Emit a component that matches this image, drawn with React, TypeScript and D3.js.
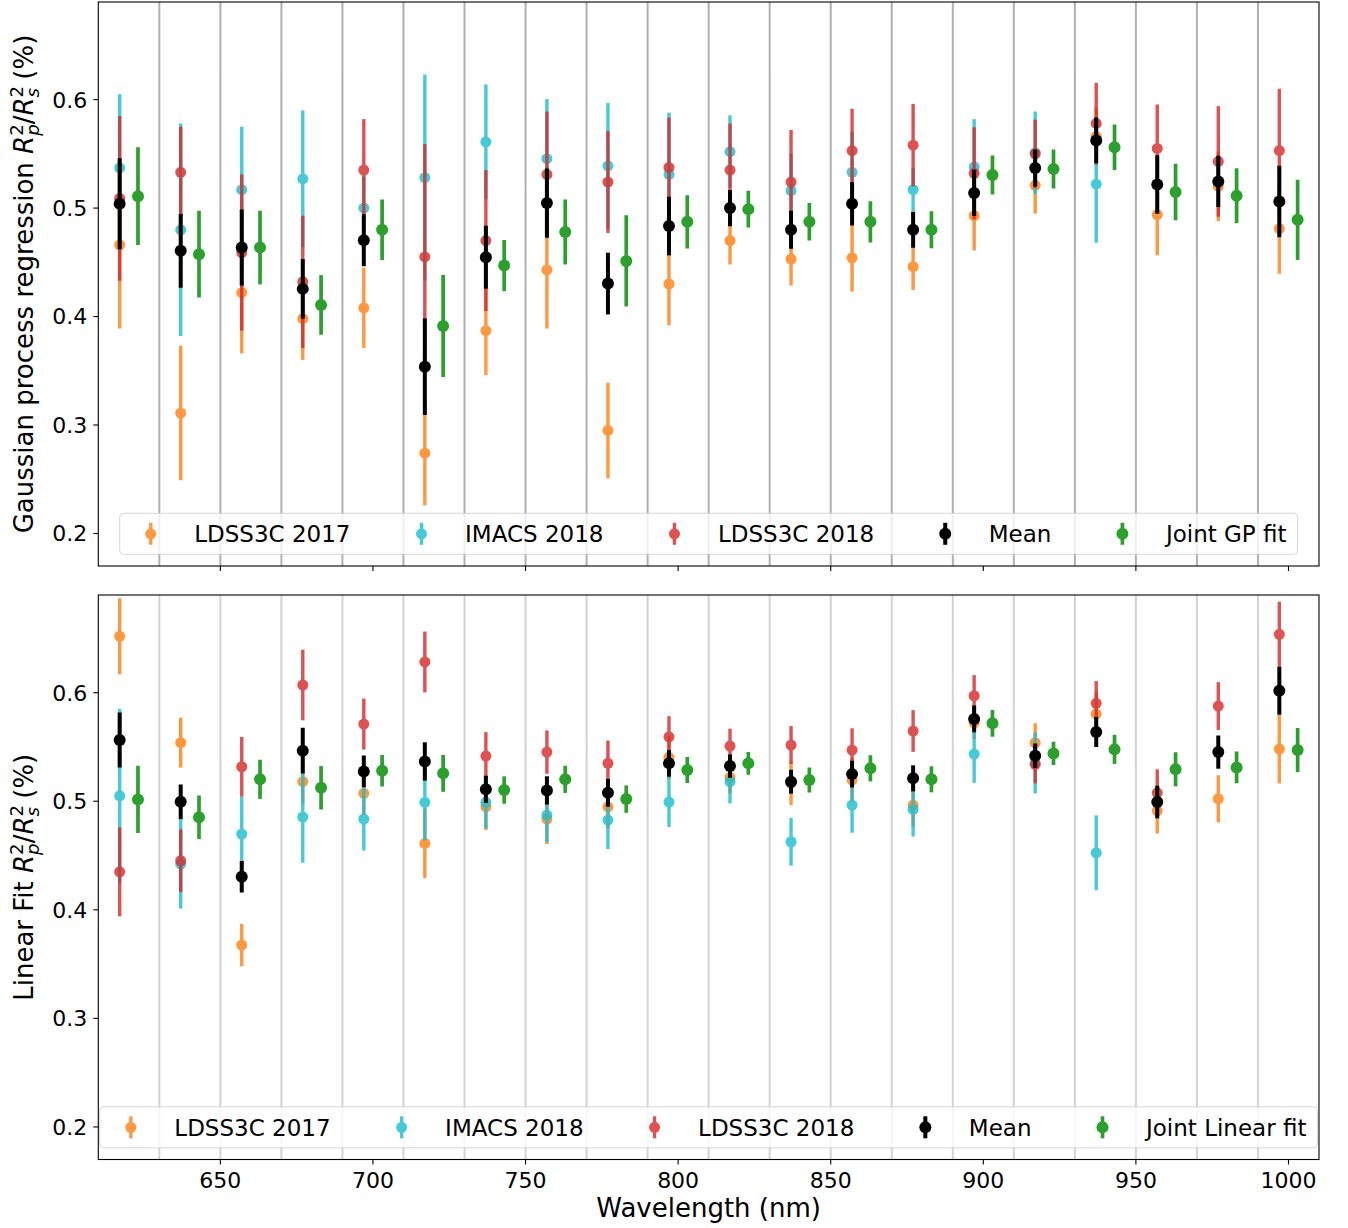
import React from 'react';
import * as d3 from 'd3';

// bin centres (nm) and bin edges used for the vertical separators
const wavelengths = [620, 640, 660, 680, 700, 720, 740, 760, 780, 800, 820, 840, 860, 880, 900, 920, 940, 960, 980, 1000];
const binEdges = [630, 650, 670, 690, 710, 730, 750, 770, 790, 810, 830, 850, 870, 890, 910, 930, 950, 970, 990];
const xTicks = [650, 700, 750, 800, 850, 900, 950, 1000];
const yTicks = [0.2, 0.3, 0.4, 0.5, 0.6];

const labels = ['LDSS3C 2017', 'IMACS 2018', 'LDSS3C 2018', 'Mean'];

// Gaussian process regression
const gpLdss17 = [0.466, 0.311, 0.422, 0.398, 0.408, 0.274, 0.387, 0.443, 0.295, 0.43, 0.47, 0.453, 0.454, 0.446, 0.493, 0.521, 0.566, 0.494, 0.52, 0.481];
const gpLdss17Err = [0.077, 0.062, 0.056, 0.038, 0.037, 0.048, 0.041, 0.054, 0.044, 0.038, 0.022, 0.0245, 0.031, 0.0215, 0.032, 0.026, 0.027, 0.0375, 0.032, 0.0415];
const gpImacs = [0.537, 0.48, 0.517, 0.527, 0.5, 0.528, 0.561, 0.5455, 0.539, 0.531, 0.552, 0.516, 0.533, 0.517, 0.538, 0.551, 0.522, null, null, null];
const gpImacsErr = [0.068, 0.098, 0.058, 0.063, 0.029, 0.095, 0.053, 0.055, 0.058, 0.057, 0.0335, 0.034, 0.037, 0.02, 0.044, 0.038, 0.054, null, null, null];
const gpLdss18 = [0.509, 0.533, 0.459, 0.432, 0.535, 0.455, 0.47, 0.531, 0.524, 0.5375, 0.535, 0.524, 0.553, 0.558, 0.532, 0.55, 0.578, 0.555, 0.543, 0.553];
const gpLdss18Err = [0.076, 0.042, 0.072, 0.061, 0.047, 0.104, 0.065, 0.058, 0.047, 0.046, 0.043, 0.048, 0.0385, 0.038, 0.0425, 0.0315, 0.0375, 0.0405, 0.051, 0.057];
const gpMean = [0.504, 0.4606, 0.4636, 0.4255, 0.4704, 0.3538, 0.4547, 0.5046, 0.4304, 0.4834, 0.5, 0.48, 0.504, 0.48, 0.514, 0.537, 0.5624, 0.5218, 0.5246, 0.5061];
const gpMeanErr = [0.042, 0.034, 0.035, 0.0275, 0.024, 0.0445, 0.029, 0.032, 0.0285, 0.027, 0.0167, 0.0175, 0.02, 0.0165, 0.0214, 0.017, 0.021, 0.027, 0.0237, 0.033];
const gpJoint = [0.511, 0.4575, 0.4636, 0.4107, 0.48, 0.3913, 0.447, 0.478, 0.4513, 0.4873, 0.499, 0.4873, 0.4873, 0.48, 0.5305, 0.536, 0.556, 0.5148, 0.5114, 0.4892];
const gpJointErr = [0.045, 0.04, 0.034, 0.0275, 0.028, 0.047, 0.0235, 0.03, 0.042, 0.0245, 0.017, 0.0173, 0.019, 0.017, 0.018, 0.018, 0.021, 0.026, 0.0254, 0.037];

// linear fit
const linLdss17 = [0.652, 0.554, 0.3675, 0.518, 0.5073, 0.4612, 0.4949, 0.4836, 0.4949, 0.5405, 0.522, 0.5165, 0.5196, 0.4965, 0.5723, 0.5539, 0.5804, 0.4912, 0.5023, 0.5481];
const linLdss17Err = [0.035, 0.023, 0.0195, 0.02, 0.02, 0.032, 0.0214, 0.023, 0.02, 0.02, 0.015, 0.02, 0.02, 0.02, 0.015, 0.018, 0.02, 0.0208, 0.0217, 0.0316];
const linImacs = [0.505, 0.4421, 0.4698, 0.4854, 0.4836, 0.499, 0.499, 0.4873, 0.4827, 0.4993, 0.518, 0.4627, 0.4965, 0.4925, 0.5435, 0.5352, 0.4525, null, null, null];
const linImacsErr = [0.08, 0.041, 0.0345, 0.042, 0.029, 0.035, 0.024, 0.025, 0.0267, 0.023, 0.02, 0.022, 0.0255, 0.025, 0.0265, 0.028, 0.0345, null, null, null];
const linLdss18 = [0.435, 0.4452, 0.5318, 0.6071, 0.5711, 0.6283, 0.5417, 0.5453, 0.5349, 0.5594, 0.5509, 0.5518, 0.5472, 0.5647, 0.5972, 0.534, 0.5902, 0.5078, 0.5877, 0.6538];
const linLdss18Err = [0.041, 0.029, 0.0275, 0.0325, 0.0235, 0.028, 0.022, 0.02, 0.021, 0.019, 0.016, 0.0175, 0.02, 0.0192, 0.019, 0.0175, 0.0205, 0.0216, 0.022, 0.03];
const linMean = [0.5564, 0.4995, 0.4304, 0.5466, 0.5275, 0.5367, 0.511, 0.51, 0.5078, 0.5349, 0.5324, 0.518, 0.525, 0.5211, 0.5758, 0.5419, 0.5638, 0.4993, 0.5453, 0.6018];
const linMeanErr = [0.0254, 0.016, 0.0145, 0.021, 0.0146, 0.0177, 0.0125, 0.013, 0.0129, 0.0123, 0.0107, 0.011, 0.0123, 0.012, 0.0123, 0.0112, 0.0138, 0.015, 0.0153, 0.022];
const linJoint = [0.5017, 0.4852, 0.5202, 0.5124, 0.5281, 0.5257, 0.5103, 0.5202, 0.502, 0.5288, 0.5349, 0.5196, 0.5303, 0.5202, 0.5718, 0.5441, 0.5478, 0.5294, 0.5312, 0.5472];
const linJointErr = [0.031, 0.02, 0.018, 0.02, 0.0145, 0.017, 0.0126, 0.0125, 0.0126, 0.012, 0.0105, 0.0115, 0.012, 0.012, 0.0123, 0.0107, 0.0134, 0.0157, 0.0146, 0.0203];

const W = 1348;
const H = 1228;
const FONT = '"DejaVu Sans", sans-serif';
const left = 98.3;
const right = 1319;
const x = d3.scaleLinear().domain([610, 1010]).range([left, right]);

const styles = [
  { color: '#ff7f0e', alpha: 0.8, r: 5.5, lw: 3.4, dx: -3 },
  { color: '#17becf', alpha: 0.8, r: 5.5, lw: 3.4, dx: -3 },
  { color: '#d62728', alpha: 0.8, r: 5.5, lw: 3.4, dx: -3 },
  { color: '#000000', alpha: 1, r: 6, lw: 4, dx: -3 },
  { color: '#2ca02c', alpha: 1, r: 6, lw: 3.7, dx: 3 },
];

let ctx: CanvasRenderingContext2D | null = null;
const textWidth = (s: string, size: number) => {
  if (!ctx) ctx = document.createElement('canvas').getContext('2d');
  if (!ctx) return s.length * size * 0.6;
  ctx.font = `${size}px "DejaVu Sans"`;
  return ctx.measureText(s).width;
};

type Series = { values: (number | null)[]; errors: (number | null)[]; label: string };

const LABEL_FS = 26;
const SUB_FS = 18.2;

const Panel = ({ id, top, bottom, series, gridColor, showXLabels, yLabel }: any) => {
  const y = d3.scaleLinear().domain([0.17, 0.69]).range([bottom, top]);

  // legend layout
  const fs = 23;
  const widths = series.map((s: Series) => textWidth(s.label, fs));
  const cols: { mx: number; tx: number }[] = [];
  let cur = 31;
  widths.forEach((w: number) => {
    cols.push({ mx: cur, tx: cur + 43.5 });
    cur += 43.5 + w + 71;
  });
  const boxW = cur - 71 + 11;
  const boxH = 41;
  const boxX = (left + right) / 2 - boxW / 2;
  const boxY = bottom - 11.7 - boxH;
  const legY = boxY + boxH / 2;
  const subDx = -textWidth('2', SUB_FS);

  return (
    <g>
      <defs>
        <clipPath id={id}>
          <rect x={left} y={top} width={right - left} height={bottom - top} />
        </clipPath>
      </defs>
      {binEdges.map((e) => (
        <line key={e} x1={x(e)} x2={x(e)} y1={top} y2={bottom} stroke={gridColor} strokeWidth={2} />
      ))}
      <g clipPath={`url(#${id})`}>
        {series.map((s: Series, si: number) => {
          const st = styles[si];
          return (
            <g key={si} opacity={st.alpha}>
              {s.values.map((v, i) => {
                if (v == null) return null;
                const e = s.errors[i] as number;
                const cx = x(wavelengths[i] + st.dx);
                return (
                  <g key={i}>
                    <line x1={cx} x2={cx} y1={y(v - e)} y2={y(v + e)} stroke={st.color} strokeWidth={st.lw} />
                    <circle cx={cx} cy={y(v)} r={st.r} fill={st.color} />
                  </g>
                );
              })}
            </g>
          );
        })}
      </g>
      {/* legend */}
      <rect x={boxX} y={boxY} width={boxW} height={boxH} rx={4} fill="#fff" fillOpacity={0.8} stroke="#cccccc" strokeOpacity={0.8} strokeWidth={1} />
      {series.map((s: Series, si: number) => {
        const st = styles[si];
        const mx = boxX + cols[si].mx;
        return (
          <g key={si}>
            <g opacity={st.alpha}>
              <line x1={mx} x2={mx} y1={legY - 11} y2={legY + 11} stroke={st.color} strokeWidth={st.lw} />
              <circle cx={mx} cy={legY} r={st.r} fill={st.color} />
            </g>
            <text x={boxX + cols[si].tx} y={legY} dy="0.36em" fontSize={fs} fontFamily={FONT} fill="#000">
              {s.label}
            </text>
          </g>
        );
      })}
      {/* frame */}
      <rect x={left} y={top} width={right - left} height={bottom - top} fill="none" stroke="#000" strokeWidth={1.1} />
      {yTicks.map((t) => (
        <g key={t}>
          <line x1={left - 5} x2={left} y1={y(t)} y2={y(t)} stroke="#000" strokeWidth={1.1} />
          <text x={left - 11} y={y(t)} dy="0.36em" textAnchor="end" fontSize={22} fontFamily={FONT}>
            {t.toFixed(1)}
          </text>
        </g>
      ))}
      {xTicks.map((t) => (
        <g key={t}>
          <line x1={x(t)} x2={x(t)} y1={bottom} y2={bottom + 5} stroke="#000" strokeWidth={1.1} />
          {showXLabels && (
            <text x={x(t)} y={bottom + 28.5} textAnchor="middle" fontSize={22} fontFamily={FONT}>
              {t}
            </text>
          )}
        </g>
      ))}
      <text transform={`translate(33,${(top + bottom) / 2}) rotate(-90)`} textAnchor="middle" fontSize={LABEL_FS} fontFamily={FONT}>
        {yLabel}
        <tspan fontStyle="italic">R</tspan>
        <tspan fontSize={SUB_FS} dy={-10}>2</tspan>
        <tspan fontSize={SUB_FS} fontStyle="italic" dx={subDx} dy={16}>p</tspan>
        <tspan dy={-6}>/</tspan>
        <tspan fontStyle="italic">R</tspan>
        <tspan fontSize={SUB_FS} dy={-10}>2</tspan>
        <tspan fontSize={SUB_FS} fontStyle="italic" dx={subDx} dy={16}>s</tspan>
        <tspan dy={-6}> (%)</tspan>
      </text>
    </g>
  );
};

const App = () => {
  const gpSeries: Series[] = [
    { values: gpLdss17, errors: gpLdss17Err, label: labels[0] },
    { values: gpImacs, errors: gpImacsErr, label: labels[1] },
    { values: gpLdss18, errors: gpLdss18Err, label: labels[2] },
    { values: gpMean, errors: gpMeanErr, label: labels[3] },
    { values: gpJoint, errors: gpJointErr, label: 'Joint GP fit' },
  ];
  const linSeries: Series[] = [
    { values: linLdss17, errors: linLdss17Err, label: labels[0] },
    { values: linImacs, errors: linImacsErr, label: labels[1] },
    { values: linLdss18, errors: linLdss18Err, label: labels[2] },
    { values: linMean, errors: linMeanErr, label: labels[3] },
    { values: linJoint, errors: linJointErr, label: 'Joint Linear fit' },
  ];
  return (
    <svg width={W} height={H} style={{ position: 'absolute', left: 0, top: 0, background: '#fff' }}>
      <Panel id="clipTop" top={2} bottom={566} series={gpSeries} gridColor="#b0b0b0" showXLabels={false} yLabel="Gaussian process regression " />
      <Panel id="clipBottom" top={595} bottom={1159.5} series={linSeries} gridColor="#d3d3d3" showXLabels={true} yLabel="Linear Fit " />
      <text x={(left + right) / 2} y={1217} textAnchor="middle" fontSize={LABEL_FS} fontFamily={FONT}>
        Wavelength (nm)
      </text>
    </svg>
  );
};

export default App;
